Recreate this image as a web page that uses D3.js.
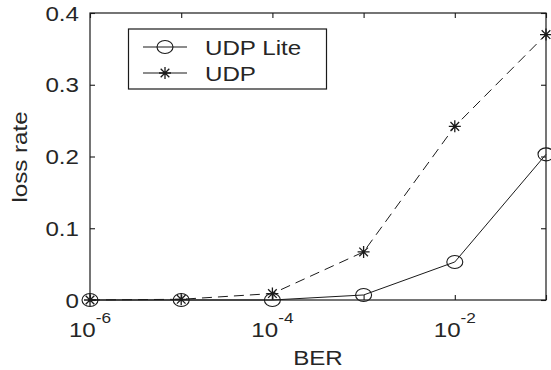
<!DOCTYPE html>
<html>
<head>
<meta charset="utf-8">
<script src="https://cdn.jsdelivr.net/npm/d3@7"></script>
<style>
	body { margin: 0; background: #fff; }
	text { font-family: "Liberation Sans", Arial, sans-serif; fill: #262626; }
</style>
</head>
<body>
<div id="chart"></div>
<script>
// data
const ber = [1e-6, 1e-5, 1e-4, 1e-3, 1e-2, 1e-1];
const udp_lite = [0, 0, 0, 0.007, 0.053, 0.203];
const udp = [0, 0.001, 0.009, 0.067, 0.242, 0.37];
const y_ticks = [0, 0.1, 0.2, 0.3, 0.4];
const y_labels = ["0", "0.1", "0.2", "0.3", "0.4"];
const x_ticks = [1e-6, 1e-5, 1e-4, 1e-3, 1e-2, 1e-1];
const x_labels = ["-6", "", "-4", "", "-2", ""];
const series_names = ["UDP Lite", "UDP"];

const W = 551, H = 370;
const margin = { top: 13, left: 90, right: 5, bottom: 70 };
const font_size = 21;
const stretch = 1.15; // glyphs look wider than tall in the picture
const c_line = "#1a1a1a";

let svg = d3.select("#chart")
	.append("svg")
	.attr("width", W)
	.attr("height", H);

let x = d3.scaleLog()
	.domain([1e-6, 1e-1])
	.range([margin.left, W - margin.right]);

let y = d3.scaleLinear()
	.domain([0, 0.4])
	.range([H - margin.bottom, margin.top]);

// box
svg.append("rect")
	.attr("x", x.range()[0])
	.attr("y", y.range()[1])
	.attr("width", x.range()[1] - x.range()[0])
	.attr("height", y.range()[0] - y.range()[1])
	.attr("fill", "none")
	.attr("stroke", c_line)
	.attr("stroke-width", 1.2);

// ticks, inside on all four sides
function ticks(axis, tx, ty) {
	let g = svg.append("g")
		.attr("transform", "translate(" + tx + "," + ty + ")")
		.call(axis.tickSize(-5).tickFormat(""));
	g.select(".domain").remove();
	g.selectAll(".tick line").attr("stroke", c_line).attr("stroke-width", 1.1);
	return g;
}
ticks(d3.axisBottom(x).tickValues(x_ticks), 0, y.range()[0]);
ticks(d3.axisTop(x).tickValues(x_ticks), 0, y.range()[1]);
ticks(d3.axisLeft(y).tickValues(y_ticks), x.range()[0], 0);
ticks(d3.axisRight(y).tickValues(y_ticks), x.range()[1], 0);

// y tick labels
svg.append("g")
	.selectAll("text")
	.data(y_ticks)
	.enter()
	.append("text")
	.attr("transform", d => "translate(" + (x.range()[0] - 11) + "," + (y(d) + 7.5) + ") scale(" + stretch + ",1)")
	.attr("text-anchor", "end")
	.attr("font-size", font_size)
	.text((d, i) => y_labels[i]);

// x tick labels 10^n
let xl = svg.append("g")
	.selectAll("text")
	.data(x_ticks.filter((d, i) => x_labels[i] != ""))
	.enter()
	.append("text")
	.attr("transform", d => "translate(" + x(d) + "," + (y.range()[0] + 37) + ") scale(" + stretch + ",1)")
	.attr("text-anchor", "middle")
	.attr("font-size", font_size);
xl.append("tspan").text("10");
xl.append("tspan")
	.attr("dy", -14)
	.attr("font-size", 15)
	.text(d => x_labels[x_ticks.indexOf(d)]);

// axis titles
svg.append("text")
	.attr("transform", "translate(" + d3.mean(x.range()) + "," + 365 + ") scale(" + stretch + ",1)")
	.attr("text-anchor", "middle")
	.attr("font-size", font_size)
	.text("BER");

svg.append("text")
	.attr("transform", "translate(" + 27 + "," + 157 + ") rotate(-90) scale(" + stretch + ",1)")
	.attr("text-anchor", "middle")
	.attr("font-size", font_size)
	.text("loss rate");

// markers
function star(g, size) {
	let p = d3.path();
	p.moveTo(-size, 0); p.lineTo(size, 0);
	p.moveTo(0, -size); p.lineTo(0, size);
	let s = size * 0.72;
	p.moveTo(-s, -s); p.lineTo(s, s);
	p.moveTo(-s, s); p.lineTo(s, -s);
	g.append("path")
		.attr("d", p.toString())
		.attr("stroke", c_line)
		.attr("stroke-width", 1.3)
		.attr("fill", "none");
}
function ring(g) {
	g.append("ellipse")
		.attr("rx", 8)
		.attr("ry", 6.5)
		.attr("fill", "none")
		.attr("stroke", c_line)
		.attr("stroke-width", 1.1);
}

let line = d3.line()
	.x((d, i) => x(ber[i]))
	.y(d => y(d));

let plot = svg.append("g").attr("id", "plot");

plot.append("path")
	.datum(udp_lite)
	.attr("d", line)
	.attr("fill", "none")
	.attr("stroke", c_line)
	.attr("stroke-width", 1);

plot.append("path")
	.datum(udp)
	.attr("d", line)
	.attr("fill", "none")
	.attr("stroke", c_line)
	.attr("stroke-width", 1)
	.attr("stroke-dasharray", "10,6");

plot.append("g")
	.selectAll("g")
	.data(udp_lite)
	.enter()
	.append("g")
	.attr("transform", (d, i) => "translate(" + x(ber[i]) + "," + y(d) + ")")
	.each(function() { ring(d3.select(this)); });

plot.append("g")
	.selectAll("g")
	.data(udp)
	.enter()
	.append("g")
	.attr("transform", (d, i) => "translate(" + x(ber[i]) + "," + y(d) + ")")
	.each(function() { star(d3.select(this), 6); });

// legend
let legend = svg.append("g").attr("id", "legend");
legend.append("rect")
	.attr("x", 128.5)
	.attr("y", 29)
	.attr("width", 198)
	.attr("height", 60)
	.attr("fill", "#fff")
	.attr("stroke", c_line)
	.attr("stroke-width", 1.2);

let item = legend.selectAll("g")
	.data(series_names)
	.enter()
	.append("g")
	.attr("transform", (d, i) => "translate(" + 143 + "," + (47 + i * 26) + ")");

item.append("line")
	.attr("x1", 0)
	.attr("x2", 44)
	.attr("stroke", c_line)
	.attr("stroke-width", 1.1);

item.append("g")
	.attr("transform", "translate(22,0)")
	.each(function(d, i) {
		if (i == 0) ring(d3.select(this));
		else star(d3.select(this), 6);
	});

item.append("text")
	.attr("transform", "translate(62,8) scale(" + stretch + ",1)")
	.attr("font-size", font_size)
	.text(d => d);
</script>
</body>
</html>
